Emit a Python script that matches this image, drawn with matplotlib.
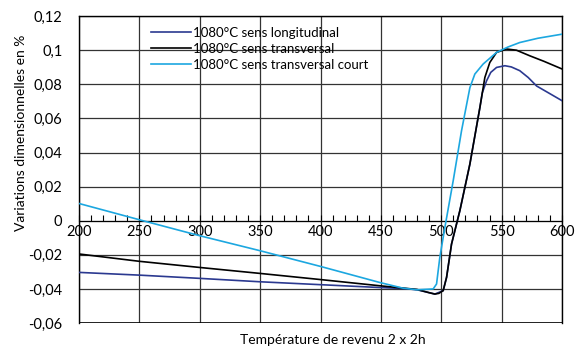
import matplotlib
matplotlib.use("Agg")
import matplotlib.pyplot as plt
from matplotlib.ticker import MultipleLocator

plt.rcParams["font.family"] = ["Lato", "DejaVu Sans"]

# values
long_x = [200, 250, 300, 350, 400, 450, 470, 480, 490, 494.7, 501.6, 504.4, 508.5,
          515.4, 523.7, 532, 534, 537.5, 541, 545.8, 552.7, 558, 565, 572, 579, 590,
          600]
long_y = [-0.0303, -0.0319, -0.0338, -0.0358, -0.0375, -0.0392, -0.0398, -0.0405,
          -0.0422, -0.0430, -0.041, -0.0332, -0.0137, 0.0059, 0.0332, 0.0664, 0.075,
          0.082, 0.0870, 0.0899, 0.0909, 0.0902, 0.088, 0.0840, 0.079, 0.0745, 0.0704]

trans_x = [200, 250, 300, 350, 400, 450, 480, 490, 494.7, 498, 501.6, 504.4, 508.5,
           515.4, 523.7, 532, 536.1, 540.2, 545.8, 554, 562.3, 573.4, 585, 600]
trans_y = [-0.0195, -0.0238, -0.0274, -0.0309, -0.0345, -0.0382, -0.0403, -0.0422,
           -0.0430, -0.0426, -0.041, -0.0332, -0.0137, 0.0059, 0.0332, 0.0664,
           0.084, 0.0928, 0.0987, 0.1007, 0.100, 0.0967, 0.0935, 0.089]

court_x = [200, 253, 300, 350, 400, 449, 468, 480, 488, 493.3, 496.1, 498.8, 503,
           509.9, 516.8, 523.7, 527.8, 534.7, 545.8, 555, 565, 580, 600]
court_y = [0.0101, 0.0, -0.0088, -0.0176, -0.0268, -0.0362, -0.0395, -0.0405,
           -0.0402, -0.0400, -0.0371, -0.0215, -0.0039, 0.0235, 0.0528, 0.078,
           0.086, 0.0919, 0.0987, 0.1018, 0.1045, 0.1070, 0.1094]

labels = ["1080°C sens longitudinal", "1080°C sens transversal",
          "1080°C sens transversal court"]
colors = ["#2b3990", "#000000", "#1ca7e0"]

y_ticks = [-0.06, -0.04, -0.02, 0, 0.02, 0.04, 0.06, 0.08, 0.1, 0.12]
y_tick_labels = ["-0,06", "-0,04", "-0,02", "0", "0,02", "0,04", "0,06", "0,08",
                 "0,1", "0,12"]
x_ticks = [200, 250, 300, 350, 400, 450, 500, 550, 600]

fig = plt.figure(figsize=(5.77, 3.5), dpi=100)
ax = fig.add_axes([0.137, 0.077, 0.837, 0.877])

for xs, ys, lab, col in zip([long_x, trans_x, court_x], [long_y, trans_y, court_y],
                            labels, colors):
    ax.plot(xs, ys, color=col, lw=1.2, label=lab, zorder=3)

ax.set_xlim(200, 600)
ax.set_ylim(-0.06, 0.12)
ax.set_xticks(x_ticks)
ax.xaxis.set_minor_locator(MultipleLocator(10))
ax.set_yticks(y_ticks)
ax.set_yticklabels(y_tick_labels)

ax.grid(True, which="major", color="#333333", lw=0.9)
ax.spines["bottom"].set_position(("data", 0))
ax.axhline(-0.06, color="black", lw=1.2, zorder=2)
for s in ["top", "right", "left"]:
    ax.spines[s].set_linewidth(1.0)

ax.tick_params(axis="x", which="both", direction="in", length=4, width=0.8,
               labelsize=10.5, pad=3)
ax.tick_params(axis="y", length=0, labelsize=10.5, pad=12)

ax.set_ylabel("Variations dimensionnelles en %", fontsize=10)
ax.yaxis.set_label_coords(-0.108, 0.62)
fig.text(0.577, 0.012, "Température de revenu 2 x 2h", fontsize=10,
         ha="center", va="bottom")

ax.legend(loc="upper left", bbox_to_anchor=(0.150, 0.965), frameon=False,
          fontsize=9.5, handlelength=3.0, handletextpad=0.15, labelspacing=0.3,
          borderpad=0, borderaxespad=0)

fig.savefig("out.png", dpi=100)
